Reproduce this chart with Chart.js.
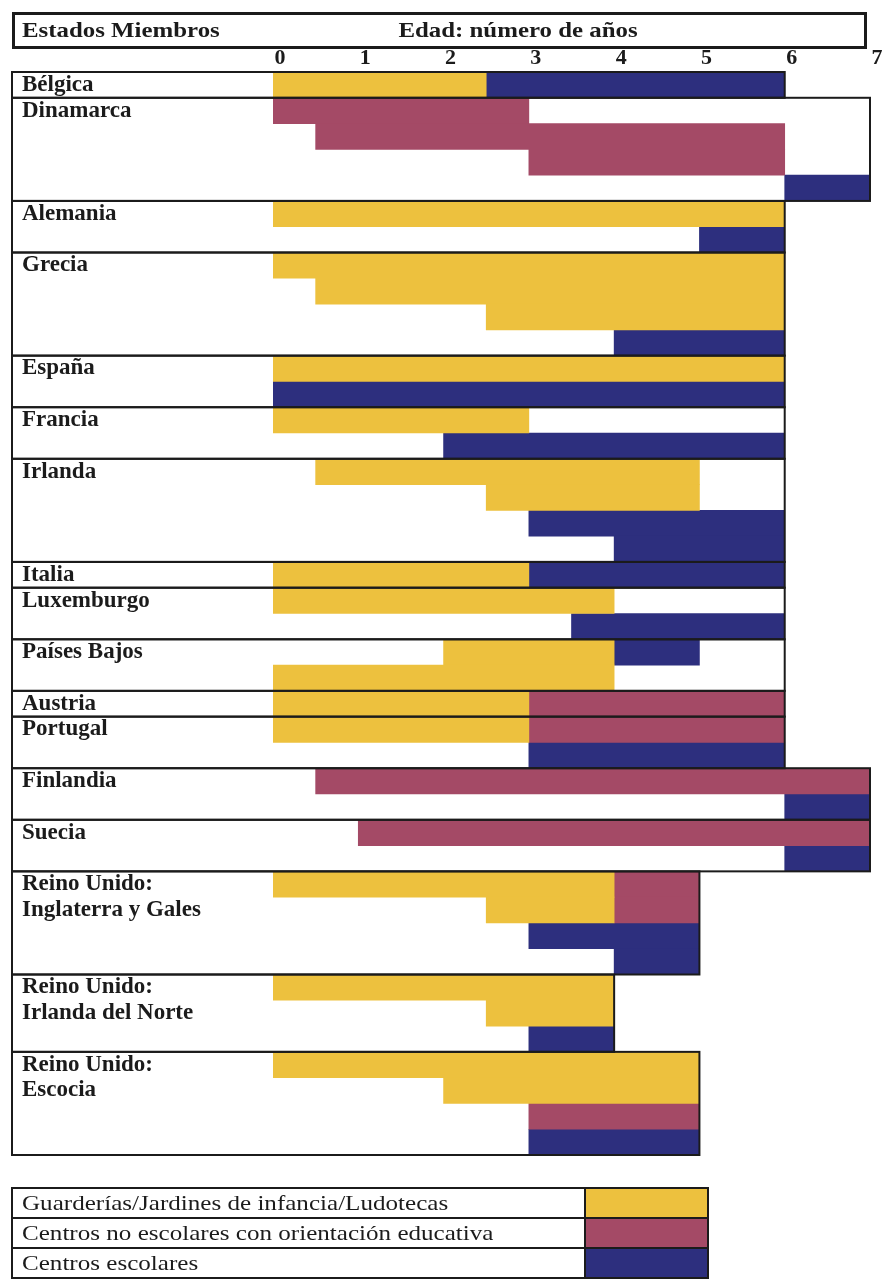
<!DOCTYPE html>
<html>
<head>
<meta charset="utf-8">
<script src="https://cdn.jsdelivr.net/npm/chart.js@4.4.0/dist/chart.umd.min.js"></script>
<style>
  html, body { margin: 0; padding: 0; background: #fff; }
  canvas { display: block; }
</style>
</head>
<body>
<canvas id="chart" width="882" height="1280"></canvas>
<script>
// Header texts
const headerLeft = "Estados Miembros";
const headerAxis = "Edad: número de años";

// Countries (lines of the label), rows used by each one and where its frame ends (years)
const countries = [
  "Bélgica", "Dinamarca", "Alemania", "Grecia", "España", "Francia", "Irlanda",
  "Italia", "Luxemburgo", "Países Bajos", "Austria", "Portugal", "Finlandia", "Suecia",
  "Reino Unido:\nInglaterra y Gales", "Reino Unido:\nIrlanda del Norte", "Reino Unido:\nEscocia"
];
const rowsPerCountry = [1, 4, 2, 4, 2, 2, 4, 1, 2, 2, 1, 2, 2, 2, 4, 3, 4];
const frameEnd = [6, 7, 6, 6, 6, 6, 6, 6, 6, 6, 6, 6, 7, 7, 5, 4, 5];

// Age ticks
const ageTicks = [0, 1, 2, 3, 4, 5, 6, 7];

// Series: one entry per row, [from, to] in years, null = nothing in that row
const guarderias = [
  [[0, 2.5]],                                  // Bélgica
  [null, null, null, null],                    // Dinamarca
  [[0, 6], null],                              // Alemania
  [[0, 6], [0.5, 6], [2.5, 6], null],          // Grecia
  [[0, 6], null],                              // España
  [[0, 3], null],                              // Francia
  [[0.5, 5], [2.5, 5], null, null],            // Irlanda
  [[0, 3]],                                    // Italia
  [[0, 4], null],                              // Luxemburgo
  [[2, 4], [0, 4]],                            // Países Bajos
  [[0, 3]],                                    // Austria
  [[0, 3], null],                              // Portugal
  [null, null],                                // Finlandia
  [null, null],                                // Suecia
  [[0, 4], [2.5, 4], null, null],              // RU Inglaterra y Gales
  [[0, 4], [2.5, 4], null],                    // RU Irlanda del Norte
  [[0, 5], [2, 5], null, null]                 // RU Escocia
].flat();

const noEscolares = [
  [null],
  [[0, 3], [0.5, 6], [3, 6], null],
  [null, null],
  [null, null, null, null],
  [null, null],
  [null, null],
  [null, null, null, null],
  [null],
  [null, null],
  [null, null],
  [[3, 6]],
  [[3, 6], null],
  [[0.5, 7], null],
  [[1, 7], null],
  [[4, 5], [4, 5], null, null],
  [null, null, null],
  [null, null, [3, 5], null]
].flat();

const escolares = [
  [[2.5, 6]],
  [null, null, null, [6, 7]],
  [null, [5, 6]],
  [null, null, null, [4, 6]],
  [null, [0, 6]],
  [null, [2, 6]],
  [null, null, [3, 6], [4, 6]],
  [[3, 6]],
  [null, [3.5, 6]],
  [[4, 5], null],
  [null],
  [null, [3, 6]],
  [null, [6, 7]],
  [null, [6, 7]],
  [null, null, [3, 5], [4, 5]],
  [null, null, [3, 4]],
  [null, null, null, [3, 5]]
].flat();

const seriesNames = [
  "Guarderías/Jardines de infancia/Ludotecas",
  "Centros no escolares con orientación educativa",
  "Centros escolares"
];
const seriesColors = ["#EDC13E", "#A44A66", "#2D2F7E"];

// one category per row, the country name goes on its first rows
const rowLabels = [];
countries.forEach((c, i) => {
  const lines = c.split("\n");
  for (let r = 0; r < rowsPerCountry[i]; r++) rowLabels.push(lines[r] || "");
});

const serif = '"Liberation Serif", "Times New Roman", serif';
const ink = "#1b1b1b";

// text a bit wider than the font, like the scanned page
function wideText(ctx, text, x, y, sx) {
  ctx.save();
  ctx.translate(x, y);
  ctx.scale(sx, 1);
  ctx.fillText(text, 0, 0);
  ctx.restore();
}

// frames round each country, header box and legend table
const frames = {
  id: "frames",
  afterDatasetsDraw(chart) {
    const { ctx, scales: { x, y } } = chart;
    const rowH = y.getPixelForValue(1) - y.getPixelForValue(0);
    ctx.save();
    ctx.strokeStyle = ink;
    ctx.lineWidth = 2;
    let row = 0;
    countries.forEach((c, i) => {
      const top = y.getPixelForValue(row) - rowH / 2;
      const bottom = y.getPixelForValue(row + rowsPerCountry[i] - 1) + rowH / 2;
      ctx.strokeRect(12, top, x.getPixelForValue(frameEnd[i]) - 12, bottom - top);
      row += rowsPerCountry[i];
    });

    // header
    ctx.lineWidth = 3;
    ctx.strokeRect(13.5, 13.5, 852, 34);
    ctx.fillStyle = ink;
    ctx.font = "bold 22px " + serif;
    ctx.textBaseline = "middle";
    ctx.textAlign = "left";
    wideText(ctx, headerLeft, 22, 31, 1.13);
    ctx.textAlign = "center";
    wideText(ctx, headerAxis, 518, 31, 1.13);

    // legend table
    const top = 1188, h = 30, left = 12, right = 708, swatch = 585;
    ctx.lineWidth = 2;
    ctx.textAlign = "left";
    ctx.font = "22px " + serif;
    chart.data.datasets.forEach((ds, i) => {
      const y0 = top + i * h;
      ctx.fillStyle = ds.backgroundColor;
      ctx.fillRect(swatch, y0, right - swatch, h);
      ctx.strokeRect(left, y0, right - left, h);
      ctx.beginPath();
      ctx.moveTo(swatch, y0);
      ctx.lineTo(swatch, y0 + h);
      ctx.stroke();
      ctx.fillStyle = ink;
      wideText(ctx, ds.label, 22, y0 + h / 2 + 1, 1.14);
    });
    ctx.restore();
  }
};

const ctx = document.getElementById("chart").getContext("2d");
new Chart(ctx, {
  type: "bar",
  data: {
    labels: rowLabels,
    datasets: [guarderias, noEscolares, escolares].map((d, i) => ({
      label: seriesNames[i],
      data: d,
      backgroundColor: seriesColors[i],
      borderWidth: 0,
      grouped: false,
      barPercentage: 1,
      categoryPercentage: 1
    }))
  },
  options: {
    indexAxis: "y",
    responsive: false,
    animation: false,
    devicePixelRatio: 1,
    layout: { padding: { left: 22, right: 12, top: 0, bottom: 125 } },
    scales: {
      x: {
        position: "top",
        min: ageTicks[0],
        max: ageTicks[ageTicks.length - 1],
        grid: { display: false, drawTicks: false },
        border: { display: false },
        afterBuildTicks(scale) { scale.ticks = ageTicks.map(v => ({ value: v })); },
        afterFit(scale) { scale.height = 72; },
        ticks: {
          padding: 0,
          labelOffset: 7,
          color: ink,
          font: { family: serif, weight: "bold", size: 22 }
        }
      },
      y: {
        grid: { display: false },
        border: { display: false },
        afterFit(scale) { scale.width = 251; },
        ticks: {
          autoSkip: false,
          crossAlign: "far",
          padding: 0,
          color: ink,
          font: { family: serif, weight: "bold", size: 23 }
        }
      }
    },
    plugins: {
      legend: { display: false },
      tooltip: { enabled: false }
    }
  },
  plugins: [frames]
});
</script>
</body>
</html>
